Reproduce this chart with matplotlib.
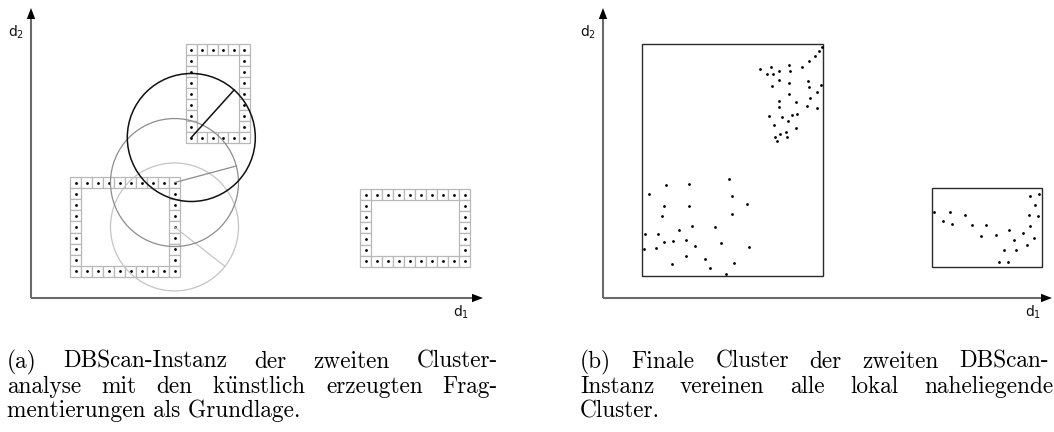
import matplotlib
matplotlib.use('Agg')
import matplotlib.pyplot as plt
from matplotlib.patches import Rectangle, Circle, Polygon
import numpy as np

W, H = 1054, 432

# ---------------- data: panel (a) ----------------
# grid blocks (positions in d1/d2 units, origin at the axis corner)
block_x0 = [155, 39, 329]
block_top = [254, 121, 109]
block_cols = [6, 10, 10]
block_rows = [9, 9, 7]
block_cw = [10.6, 11.0, 11.0]
block_ch = [11.0, 11.1, 11.1]

# eps-neighbourhoods centred on a cell of a block
circle_block = [0, 1, 1]
circle_col = [0, 9, 9]
circle_row = [8, 0, 4]
circle_radius = [64, 64, 64]
circle_angle = [48, 15, -38]
circle_color = ['#111111', '#8c8c8c', '#c4c4c4']

# ---------------- data: panel (b) ----------------
top_d1 = [157.0, 167.7, 164.0, 170.3, 176.3, 186.3, 187.0, 199.3, 206.0, 211.5, 216.0, 218.7,
          176.3, 186.3, 204.5, 169.3, 206.3, 214.0, 218.3, 185.5, 206.5, 175.7, 175.7, 192.5,
          203.5, 214.3, 166.3, 178.7, 189.3, 194.3, 185.3, 171.3, 193.0, 177.3, 183.0, 171.7,
          183.7, 173.7]
top_d2 = [229.0, 231.3, 224.0, 224.0, 227.0, 232.7, 227.0, 231.0, 237.0, 242.2, 247.0, 250.7,
          218.0, 214.7, 217.3, 212.0, 210.7, 206.0, 212.7, 204.0, 200.5, 197.0, 190.7, 196.5,
          192.2, 190.0, 181.7, 181.3, 183.5, 183.8, 177.3, 172.7, 170.3, 164.0, 165.7, 161.3,
          160.7, 157.0]
low_d1 = [126.0, 62.7, 86.0, 45.7, 129.0, 144.3, 61.3, 85.7, 59.3, 129.3, 88.7, 112.3, 76.3,
          42.3, 55.3, 61.3, 69.7, 83.0, 92.0, 118.3, 146.3, 41.0, 53.3, 82.7, 102.0, 131.3,
          69.0, 107.0, 122.7]
low_d2 = [119.3, 113.0, 113.7, 104.3, 101.7, 94.3, 92.3, 92.0, 82.3, 83.7, 72.0, 71.0, 68.3,
          64.0, 64.0, 56.0, 57.3, 57.7, 52.3, 54.7, 51.3, 49.0, 49.7, 41.7, 38.7, 34.7,
          33.7, 30.3, 24.3]
right_d1 = [331.3, 347.3, 362.3, 340.0, 349.3, 368.7, 383.3, 378.3, 392.7, 405.7, 411.0, 420.3,
            424.0, 427.3, 430.7, 401.3, 413.0, 396.3, 405.3, 426.3, 435.3, 432.3, 427.0, 435.7]
right_d2 = [85.7, 86.3, 83.0, 76.7, 74.0, 73.0, 72.7, 62.3, 62.7, 68.0, 58.3, 64.7,
            52.7, 72.0, 59.7, 47.7, 47.7, 36.0, 36.3, 82.7, 81.7, 93.0, 102.3, 104.3]
rect_x = [39, 329]
rect_y = [22, 31]
rect_w = [181, 110]
rect_h = [232, 79]

# ---------------- captions ----------------
cap_a = [["(a)", "DBScan-Instanz", "der", "zweiten", "Cluster-"],
         ["analyse", "mit", "den", r"k$\ddot{\mathrm{u}}$nstlich", "erzeugten", "Frag-"],
         ["mentierungen als Grundlage."]]
cap_b = [["(b)", "Finale", "Cluster", "der", "zweiten", "DBScan-"],
         ["Instanz", "vereinen", "alle", "lokal", "naheliegende"],
         ["Cluster."]]

fig = plt.figure(figsize=(W / 100, H / 100), dpi=100)


def make_ax(left_px, ox, oy):
    ax = fig.add_axes([left_px / W, 0, 527 / W, 1])
    ax.set_xlim(-(ox - left_px), 527 - (ox - left_px))
    ax.set_ylim(oy - H, oy)
    ax.axis('off')
    return ax


def draw_axes_arrows(ax, xtip, ytip):
    ax.plot([0, xtip - 8], [0, 0], color='#6a6a6a', lw=1.5, solid_capstyle='butt', zorder=2)
    ax.plot([0, 0], [0, ytip - 8], color='#6a6a6a', lw=1.5, solid_capstyle='butt', zorder=2)
    ax.add_patch(Polygon([(xtip, 0), (xtip - 11, 4.2), (xtip - 11, -4.2)], closed=True,
                         facecolor='black', edgecolor='none', zorder=3))
    ax.add_patch(Polygon([(0, ytip), (-4.2, ytip - 11), (4.2, ytip - 11)], closed=True,
                         facecolor='black', edgecolor='none', zorder=3))
    ax.text(-23, 261, r'd$_2$', fontsize=10, va='baseline', ha='left', color='#111111')
    ax.text(422, -19, r'd$_1$', fontsize=10, va='baseline', ha='left', color='#111111')


axL = make_ax(0, 31, 298)
axR = make_ax(527, 603, 298)
draw_axes_arrows(axL, 452, 290)
draw_axes_arrows(axR, 449, 290)

# ----- panel (a): grid blocks -----
centers = []
for b in range(len(block_x0)):
    cc = {}
    for r in range(block_rows[b]):
        for c in range(block_cols[b]):
            if r in (0, block_rows[b] - 1) or c in (0, block_cols[b] - 1):
                x = block_x0[b] + c * block_cw[b]
                y = block_top[b] - (r + 1) * block_ch[b]
                axL.add_patch(Rectangle((x, y), block_cw[b], block_ch[b], facecolor='white',
                                        edgecolor='#b8b8b8', lw=0.9, zorder=3))
                cx, cy = x + block_cw[b] / 2, y + block_ch[b] / 2
                axL.plot(cx, cy, 'o', color='black', ms=2.0, mew=0, zorder=4)
            cc[(c, r)] = (block_x0[b] + (c + 0.5) * block_cw[b],
                          block_top[b] - (r + 0.5) * block_ch[b])
    centers.append(cc)

# ----- panel (a): eps circles (drawn light -> dark) -----
for i in [2, 1, 0]:
    cx, cy = centers[circle_block[i]][(circle_col[i], circle_row[i])]
    axL.add_patch(Circle((cx, cy), circle_radius[i], fill=False, edgecolor=circle_color[i],
                         lw=1.1 if i == 0 else 0.9, zorder=5 + (2 - i)))
    a = np.deg2rad(circle_angle[i])
    axL.plot([cx, cx + circle_radius[i] * np.cos(a)], [cy, cy + circle_radius[i] * np.sin(a)],
             color=circle_color[i], lw=1.1 if i == 0 else 0.9, zorder=5 + (2 - i))

# ----- panel (b) -----
for i in range(len(rect_x)):
    axR.add_patch(Rectangle((rect_x[i], rect_y[i]), rect_w[i], rect_h[i], fill=False,
                            edgecolor='#2a2a2a', lw=1.0, zorder=3))
for xs, ys in [(top_d1, top_d2), (low_d1, low_d2), (right_d1, right_d2)]:
    axR.plot(xs, ys, 'o', color='black', ms=2.0, mew=0, ls='none', zorder=4)

# ----- captions (justified) -----
cap_kw = dict(fontsize=16.8, family='cmr10', math_fontfamily='cm',
              va='baseline', ha='left', color='black')
fig.canvas.draw()
renderer = fig.canvas.get_renderer()


def place_caption(ax, lines, x0, x_right, ys):
    for li, words in enumerate(lines):
        y = ys[li]
        if len(words) == 1:
            ax.text(x0, y, words[0], **cap_kw)
            continue
        objs = [ax.text(x0, y, w, **cap_kw) for w in words]
        widths = [o.get_window_extent(renderer).width for o in objs]
        gap = (x_right[li] - x0 - sum(widths)) / (len(words) - 1)
        x = x0
        for o, wdt in zip(objs, widths):
            o.set_x(x)
            x += wdt + gap


place_caption(axL, cap_a, -24, [467, 467, 467], [-70, -95, -119])
place_caption(axR, cap_b, -23, [446, 450, 450], [-70, -95, -119])

fig.savefig('out.png', dpi=100, facecolor='white')
